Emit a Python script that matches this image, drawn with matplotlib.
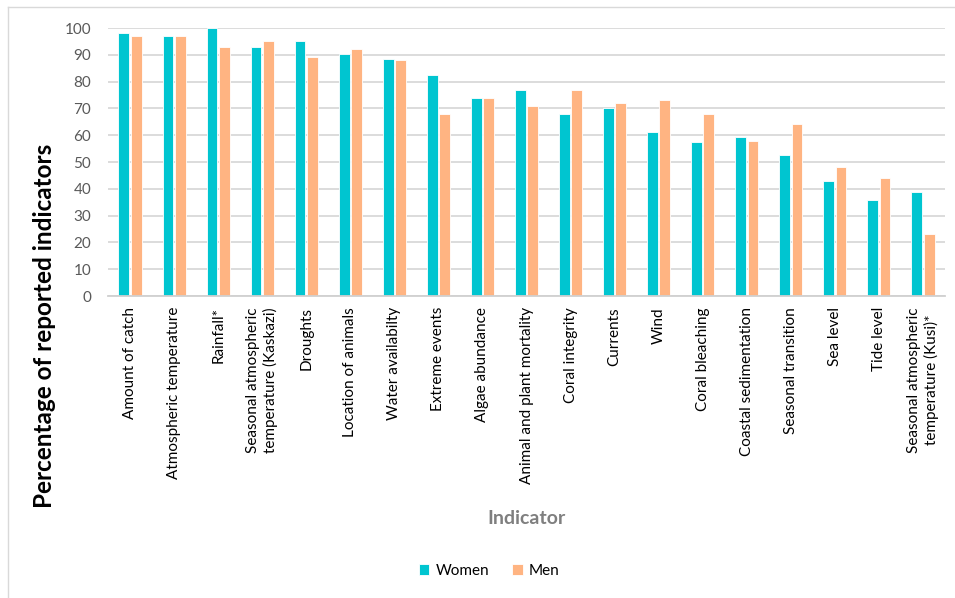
import numpy as np
import matplotlib
matplotlib.use("Agg")
from matplotlib import pyplot as plt
from matplotlib.lines import Line2D

plt.rcParams['font.family'] = ['Lato', 'DejaVu Sans']

indicators = [
    "Amount of catch", "Atmospheric temperature", "Rainfall*",
    "Seasonal atmospheric\ntemperature (Kaskazi)", "Droughts",
    "Location of animals", "Water availabilty", "Extreme events",
    "Algae abundance", "Animal and plant mortality", "Coral integrity",
    "Currents", "Wind", "Coral bleaching", "Coastal sedimentation",
    "Seasonal transition", "Sea level", "Tide level",
    "Seasonal atmospheric\ntemperature (Kusi)*",
]
women = [98, 97, 100, 93, 95, 90.4, 88.5, 82.5, 73.8, 76.8, 67.9, 70, 61.2,
         57.3, 59.3, 52.5, 42.8, 35.8, 38.8]
men = [97, 97, 93, 95, 89, 92, 88, 68, 74, 71, 77, 72, 73, 68, 58, 64, 48,
       44, 23]
yticks = list(range(0, 101, 10))

teal = "#00C5D0"
peach = "#FFB482"

fig = plt.figure(figsize=(9.55, 5.98), dpi=100)
ax = fig.add_axes([108 / 955, 1 - 296 / 598, 837 / 955, 268 / 598])

x = np.arange(len(indicators))
w = 0.245
ax.bar(x - 0.14, women, w, color=teal, edgecolor="white", linewidth=0.6,
       label="Women", zorder=3)
ax.bar(x + 0.14, men, w, color=peach, edgecolor="white", linewidth=0.6,
       label="Men", zorder=3)

ax.set_xlim(-0.5, len(indicators) - 0.5)
ax.set_ylim(0, 100)
ax.set_yticks(yticks)
ax.set_xticks(x)
ax.set_xticklabels(indicators, rotation=90, fontsize=11, color="black",
                   va="top", ha="center", multialignment="center")
ax.tick_params(axis="y", labelsize=11, labelcolor="#595959", length=0, pad=12)
ax.tick_params(axis="x", length=0, pad=8)
ax.grid(axis="y", color="#D9D9D9", linewidth=1.3, zorder=0)
for s in ["top", "right", "left"]:
    ax.spines[s].set_visible(False)
ax.spines["bottom"].set_color("#D0D0D0")
ax.spines["bottom"].set_linewidth(1.3)
ax.spines["bottom"].set_zorder(4)

fig.text(44 / 955, 1 - 326 / 598, "Percentage of reported indicators",
         rotation=90, fontsize=17.5, fontweight="bold", ha="center", va="center")
fig.text(526 / 955, 1 - 518 / 598, "Indicator", fontsize=14,
         fontweight="bold", color="#7F7F7F", ha="center", va="center")

leg = fig.legend(loc="center", bbox_to_anchor=(489 / 955, 1 - 571 / 598),
                 ncol=2, frameon=False, fontsize=11, handlelength=0.7,
                 handleheight=0.7, handletextpad=0.4, columnspacing=1.5)

# outer chart border (only left and top show in the crop)
fig.add_artist(Line2D([8 / 955, 8 / 955], [0, 1 - 7 / 598],
                      transform=fig.transFigure, color="#D9D9D9", lw=1))
fig.add_artist(Line2D([8 / 955, 1], [1 - 7 / 598, 1 - 7 / 598],
                      transform=fig.transFigure, color="#D9D9D9", lw=1))

fig.savefig("out.png", dpi=100)
